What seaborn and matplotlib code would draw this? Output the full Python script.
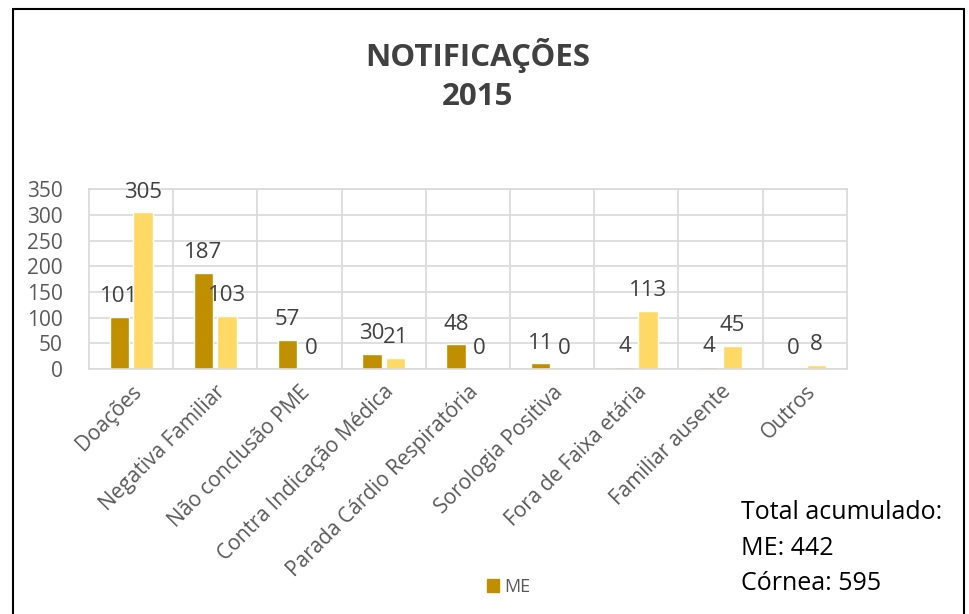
import matplotlib
matplotlib.use("Agg")
import matplotlib.pyplot as plt
import matplotlib.patches as mpatches
import seaborn as sns
import pandas as pd

categorias = ["Doações", "Negativa Familiar", "Não conclusão PME",
              "Contra Indicação Médica", "Parada Cárdio Respiratória",
              "Sorologia Positiva", "Fora de Faixa etária",
              "Familiar ausente", "Outros"]
me_vals = [101, 187, 57, 30, 48, 11, 4, 4, 0]
cornea_vals = [305, 103, 0, 21, 0, 0, 113, 45, 8]
series = ["ME", "Córnea"]
cores = ["#BF8F00", "#FFD966"]
y_ticks = [0, 50, 100, 150, 200, 250, 300, 350]

df = pd.DataFrame({
    "categoria": categorias * 2,
    "serie": ["ME"] * len(categorias) + ["Córnea"] * len(categorias),
    "valor": me_vals + cornea_vals,
})

sns.set_theme(style="white")
plt.rcParams["font.family"] = ["Open Sans", "DejaVu Sans"]

fig = plt.figure(figsize=(9.69, 6.14), dpi=100)
ax = fig.add_axes([0.0918, 0.399, 0.782, 0.293])

sns.barplot(data=df, x="categoria", y="valor", hue="serie", hue_order=series,
            palette=cores, width=0.56, gap=0.18, saturation=1, ax=ax,
            legend=False)

# data labels
for cont in ax.containers:
    ax.bar_label(cont, padding=7, fontsize=16, color="#404040")

ax.set_ylim(0, 350)
ax.set_yticks(y_ticks)
ax.set_xlim(-0.5, len(categorias) - 0.5)
ax.set_xlabel("")
ax.set_ylabel("")

# grid lines like the spreadsheet chart
ax.set_xticks([i + 0.5 for i in range(len(categorias) - 1)], minor=True)
ax.grid(True, axis="y", color="#D9D9D9", linewidth=1.2)
ax.grid(True, axis="x", which="minor", color="#D9D9D9", linewidth=1.2)
ax.grid(False, axis="x", which="major")
ax.set_axisbelow(True)
for s in ax.spines.values():
    s.set_color("#D9D9D9")
    s.set_linewidth(1.2)

ax.tick_params(axis="both", which="both", length=0)
ax.tick_params(axis="y", labelsize=15, labelcolor="#595959", pad=19)
ax.set_xticks(range(len(categorias)))
ax.set_xticklabels(categorias, rotation=45, ha="right", rotation_mode="anchor",
                   fontsize=15, color="#595959")
ax.tick_params(axis="x", pad=9)

fig.text(0.493, 0.91, "NOTIFICAÇÕES", ha="center", va="center",
         fontsize=22.5, fontweight="bold", color="#404040")
fig.text(0.493, 0.842, "2015", ha="center", va="center",
         fontsize=22.5, fontweight="bold", color="#404040")

# legend shows only ME
handle = mpatches.Patch(color=cores[0], label="ME")
fig.legend(handles=[handle], loc="center", bbox_to_anchor=(0.525, 0.044),
           frameon=False, fontsize=13, handlelength=0.7, handleheight=0.7,
           handletextpad=0.3, labelcolor="#595959")

fig.text(0.765, 0.166, "Total acumulado:", fontsize=18, color="black", va="center")
fig.text(0.765, 0.107, "ME: 442", fontsize=18, color="black", va="center")
fig.text(0.765, 0.049, "Córnea: 595", fontsize=18, color="black", va="center")

# outer border of the chart box
border = mpatches.Rectangle((0.013, -0.05), 0.982, 1.035, transform=fig.transFigure,
                            fill=False, edgecolor="black", linewidth=1.5)
fig.patches.append(border)

fig.savefig("out.png", dpi=100)
